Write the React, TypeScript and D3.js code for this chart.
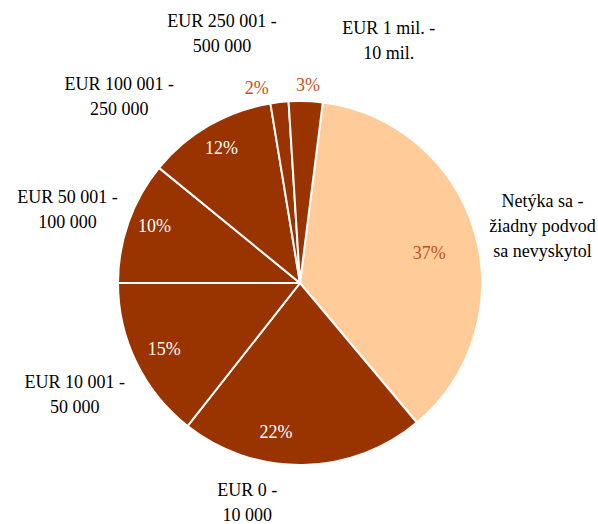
import React from "react";
import * as d3 from "d3";

// slices clockwise from the top, as in the original chart
const categories = [
  ["Netýka sa -", "žiadny podvod", "sa nevyskytol"],
  ["EUR 0 -", "10 000"],
  ["EUR 10 001 -", "50 000"],
  ["EUR 50 001 -", "100 000"],
  ["EUR 100 001 -", "250 000"],
  ["EUR 250 001 -", "500 000"],
  ["EUR 1 mil. -", "10 mil."],
];
const shares = [36.9, 21.7, 14.4, 10.9, 11.5, 1.6, 3.0];
const pctLabels = ["37%", "22%", "15%", "10%", "12%", "2%", "3%"];

// label placement: [radius factor, angle offset in degrees]
const pctPlace: [number, number][] = [
  [0.73, 3], [0.83, 10], [0.83, 0], [0.86, 2], [0.86, 0], [1.1, -6], [1.09, 0.5],
];
const catPlace: [number, number][] = [
  [1.37, 76.6], [1.24, 193.5], [1.38, 243.7], [1.34, 287.6], [1.43, 316], [1.44, -17.3], [1.42, 20.1],
];

const W = 598;
const H = 524;
const cx = 300;
const cy = 283;
const R = 182;
const dark = "#993300";
const light = "#ffcc99";
const font = '"Liberation Serif", "DejaVu Serif", serif';

const rad = (deg: number) => (deg * Math.PI) / 180;
const polar = (r: number, deg: number) => [r * Math.sin(rad(deg)), -r * Math.cos(rad(deg))];

export default function App() {
  const pie = d3
    .pie<number>()
    .sort(null)
    .startAngle(rad(7.2))
    .endAngle(rad(367.2))
    .value((d) => d);
  const arcs = pie(shares);
  const arc = d3.arc<d3.PieArcDatum<number>>().innerRadius(0).outerRadius(R);

  return (
    <svg width={W} height={H} style={{ position: "absolute", left: 0, top: 0, fontFamily: font }}>
      <rect width={W} height={H} fill="#fff" />
      <g transform={`translate(${cx},${cy})`}>
        {arcs.map((a, i) => (
          <path key={i} d={arc(a) || ""} fill={i === 0 ? light : dark} stroke="#fff" strokeWidth={2} />
        ))}
        {arcs.map((a, i) => {
          const mid = ((a.startAngle + a.endAngle) / 2) * (180 / Math.PI);
          const [x, y] = polar(R * pctPlace[i][0], mid + pctPlace[i][1]);
          const inside = pctPlace[i][0] < 1;
          return (
            <text
              key={i}
              x={x}
              y={y}
              dy="0.35em"
              textAnchor="middle"
              style={{ fontFamily: font }}
              fontSize={18}
              fill={inside && i !== 0 ? "#fff" : "#bf4f1a"}
            >
              {pctLabels[i]}
            </text>
          );
        })}
        {categories.map((lines, i) => {
          const [x, y] = polar(R * catPlace[i][0], catPlace[i][1]);
          const lh = 25;
          const y0 = y - ((lines.length - 1) * lh) / 2;
          return (
            <text key={i} textAnchor="middle" style={{ fontFamily: font }} fontSize={18} fill="#000">
              {lines.map((l, j) => (
                <tspan key={j} x={x} y={y0 + j * lh} dy="0.35em">
                  {l}
                </tspan>
              ))}
            </text>
          );
        })}
      </g>
    </svg>
  );
}
